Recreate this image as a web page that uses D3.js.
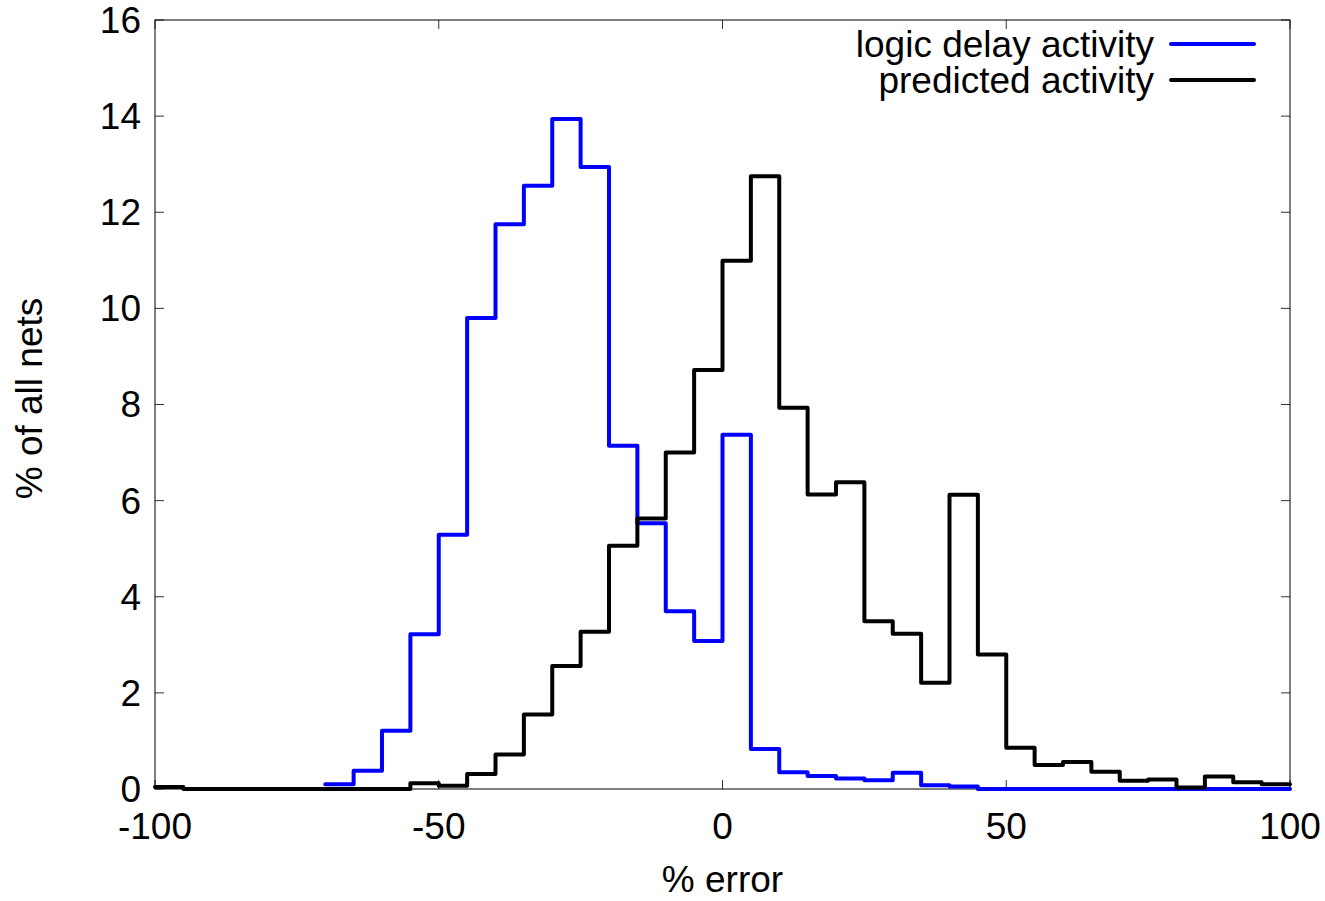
<!DOCTYPE html>
<html>
<head>
<meta charset="utf-8">
<script src="https://cdn.jsdelivr.net/npm/d3@7"></script>
<style>
  body { margin: 0; background: #fff; }
  text { font-family: "Liberation Sans", Arial, sans-serif; fill: #000; }
</style>
</head>
<body>
<div id="chart"></div>
<script>
// bin starts (% error), width 5
const binStarts = [-100, -95, -90, -85, -80, -75, -70, -65, -60, -55, -50, -45, -40, -35, -30, -25, -20, -15, -10, -5,
                   0, 5, 10, 15, 20, 25, 30, 35, 40, 45, 50, 55, 60, 65, 70, 75, 80, 85, 90, 95];
const binWidth = 5;

// logic delay activity (starts at -70)
const logicStart = -70;
const logicDelay = [0.1, 0.38, 1.21, 3.22, 5.29, 9.8, 11.75, 12.55, 13.94, 12.94, 7.14, 5.53, 3.7, 3.08,
                    7.37, 0.83, 0.35, 0.27, 0.22, 0.18, 0.34, 0.08, 0.05, 0, 0, 0, 0, 0, 0, 0, 0, 0, 0, 0];

// predicted activity (starts at -100)
const predicted = [0.04, 0, 0, 0, 0, 0, 0, 0, 0, 0.12, 0.07, 0.31, 0.72, 1.55, 2.56, 3.27, 5.06, 5.63, 7.0, 8.72,
                   10.99, 12.75, 7.93, 6.13, 6.38, 3.49, 3.23, 2.21, 6.12, 2.8, 0.86, 0.5, 0.56, 0.36, 0.17, 0.2, 0.03, 0.26, 0.14, 0.1];

const xTicks = [-100, -50, 0, 50, 100];
const yTicks = [0, 2, 4, 6, 8, 10, 12, 14, 16];

const width = 1325;
const height = 901;
const margin = ({top: 20, right: 35, bottom: 112, left: 155});
const fontSize = 37;

const x = d3.scaleLinear()
      .domain([-100, 100])
      .range([margin.left, width - margin.right]);

const y = d3.scaleLinear()
      .domain([0, 16])
      .range([height - margin.bottom, margin.top]);

const toSteps = (starts, values) => {
    const pts = values.map((v, i) => ({x: starts[i], v}));
    pts.push({x: starts[values.length - 1] + binWidth, v: values[values.length - 1]});
    return pts;
};

const logicStarts = binStarts.filter(b => b >= logicStart);
const logicData = toSteps(logicStarts, logicDelay);
const predData = toSteps(binStarts, predicted);

const line = d3.line()
      .curve(d3.curveStepAfter)
      .x(d => x(d.x))
      .y(d => y(d.v));

const svg = d3.select("#chart").append("svg")
      .attr("width", width)
      .attr("height", height)
      .attr("viewBox", [0, 0, width, height]);

const tickLen = 9;
const ticks = svg.append("g")
      .attr("stroke", "#333")
      .attr("stroke-width", 1);

xTicks.forEach(t => {
    ticks.append("line").attr("x1", x(t)).attr("x2", x(t))
        .attr("y1", y(0)).attr("y2", y(0) - tickLen);
    ticks.append("line").attr("x1", x(t)).attr("x2", x(t))
        .attr("y1", y(16)).attr("y2", y(16) + tickLen);
});
yTicks.forEach(t => {
    ticks.append("line").attr("x1", x(-100)).attr("x2", x(-100) + tickLen)
        .attr("y1", y(t)).attr("y2", y(t));
    ticks.append("line").attr("x1", x(100)).attr("x2", x(100) - tickLen)
        .attr("y1", y(t)).attr("y2", y(t));
});

svg.append("g")
    .selectAll("text")
    .data(xTicks)
    .join("text")
    .attr("x", d => x(d))
    .attr("y", 839)
    .attr("text-anchor", "middle")
    .attr("font-size", fontSize)
    .text(d => d);

svg.append("g")
    .selectAll("text")
    .data(yTicks)
    .join("text")
    .attr("x", 141)
    .attr("y", d => y(d))
    .attr("dy", "0.35em")
    .attr("text-anchor", "end")
    .attr("font-size", fontSize)
    .text(d => d);

svg.append("text")
    .attr("x", x(0))
    .attr("y", 892)
    .attr("text-anchor", "middle")
    .attr("font-size", fontSize)
    .text("% error");

svg.append("text")
    .attr("transform", `translate(42,${(y(0) + y(16)) / 2 - 6}) rotate(-90)`)
    .attr("text-anchor", "middle")
    .attr("font-size", fontSize)
    .text("% of all nets");

svg.append("rect")
    .attr("x", x(-100))
    .attr("y", y(16))
    .attr("width", x(100) - x(-100))
    .attr("height", y(0) - y(16))
    .attr("fill", "none")
    .attr("stroke", "#000")
    .attr("stroke-width", 1);

svg.append("path")
    .datum(logicData)
    .attr("fill", "none")
    .attr("stroke", "#0000ff")
    .attr("stroke-width", 4)
    .attr("stroke-linejoin", "round")
    .attr("stroke-linecap", "round")
    .attr("d", line);

svg.append("path")
    .datum(predData)
    .attr("fill", "none")
    .attr("stroke", "#000")
    .attr("stroke-width", 4)
    .attr("stroke-linejoin", "round")
    .attr("stroke-linecap", "round")
    .attr("d", line);

// legend
const legend = [
    {label: "logic delay activity", color: "#0000ff", y: 44},
    {label: "predicted activity", color: "#000", y: 80}
];
const lg = svg.append("g");
legend.forEach(d => {
    lg.append("text")
        .attr("x", 1154)
        .attr("y", d.y)
        .attr("dy", "0.35em")
        .attr("text-anchor", "end")
        .attr("font-size", fontSize)
        .text(d.label);
    lg.append("line")
        .attr("x1", 1171).attr("x2", 1254)
        .attr("y1", d.y).attr("y2", d.y)
        .attr("stroke", d.color)
        .attr("stroke-width", 4)
        .attr("stroke-linecap", "round");
});
</script>
</body>
</html>
